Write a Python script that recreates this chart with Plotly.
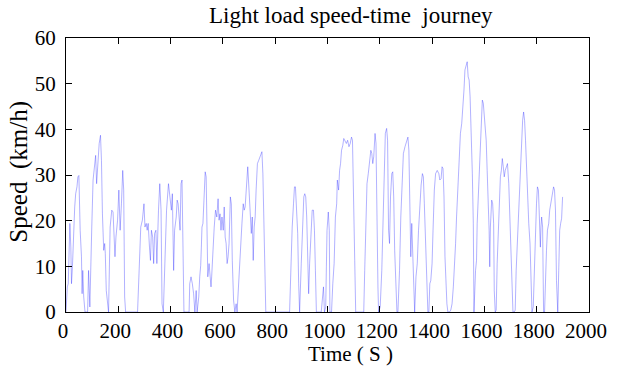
import plotly.graph_objects as go

# Light-load drive cycle: time (s) and vehicle speed (km/h)
time_s = [
    0, 5, 8.6, 14.8, 18.5, 21, 24.6, 29.6, 33.3, 37, 41.9, 45.6, 49.3, 54.2, 59.2, 61.6, 64.1, 67.8, 72.7,
    82.6, 86.3, 91.2, 96.1, 98.6, 103.5, 108.4, 113.4, 117.1, 122, 126.9, 131.9, 135.6, 139.3, 144.2,
    147.9, 150.3, 154, 162.7, 168.8, 175, 179.9, 183.6, 187.3, 191, 197.2, 202.1, 207, 212, 216.9, 220.6,
    224.3, 228, 273.6, 279.7, 285.9, 292, 298.2, 301.9, 306.8, 310.5, 314.2, 319.2, 322.9, 326.6, 331.5,
    335.2, 338.9, 343.8, 347.5, 353.7, 358.6, 363.5, 367.2, 372.2, 378.3, 384.5, 391.9, 396.8, 403,
    406.7, 411.6, 415.3, 421.5, 425.1, 428.8, 436.2, 439.9, 443.6, 447.3, 451, 458.4, 470.7, 473.2,
    478.1, 483.1, 488, 492.9, 497.8, 501.5, 507.7, 511.4, 515.1, 517.6, 520, 523.7, 527.4, 532.3, 536,
    538.5, 542.2, 547.1, 550.8, 554.5, 557, 561.9, 566.8, 571.8, 576.7, 581.6, 585.3, 589, 592.7, 596.4,
    601.3, 605, 608.7, 612.4, 616.1, 619.8, 623.5, 628.5, 632.2, 635.9, 640.8, 645.7, 650.6, 654.3,
    659.3, 664.2, 667.9, 672.8, 677.7, 681.4, 685.1, 690.1, 695, 699.9, 704.9, 708.6, 712.3, 716, 719.6,
    723.4, 727, 732, 736.9, 741.8, 745.5, 749.2, 752.9, 756.6, 760.3, 764, 855, 858.9, 865, 870, 873.7,
    877.4, 881.1, 886, 889.7, 893.4, 899.6, 904.5, 909.4, 913.1, 916.8, 920.5, 924.2, 927.9, 931.6,
    936.5, 941.5, 946.4, 950.1, 953.8, 957.5, 976, 980.9, 984.6, 988.3, 993.2, 995.7, 998.2, 1003.1,
    1006.8, 1009.2, 1015.4, 1020.3, 1025.3, 1030.2, 1035.1, 1037.6, 1042.5, 1046.2, 1049.9, 1053.6,
    1058.5, 1062.2, 1067.2, 1072.1, 1077, 1082, 1086.9, 1091.8, 1095.5, 1099.2, 1104.1, 1107.8, 1138.6,
    1142.3, 1146, 1151, 1155.9, 1160.8, 1165.7, 1169.4, 1173.1, 1176.8, 1181.8, 1185.5, 1189.2, 1192.9,
    1195.3, 1201.5, 1207.6, 1212.6, 1217.5, 1221.2, 1226.1, 1229.8, 1233.5, 1237.2, 1240.9, 1245.8,
    1249.5, 1253.2, 1256.9, 1261.9, 1265.6, 1269.3, 1275.4, 1280.3, 1285.3, 1290.2, 1296.4, 1302.5,
    1307.5, 1311.2, 1314.9, 1318.5, 1322.2, 1325.9, 1329.6, 1333.3, 1338.3, 1343.2, 1348.1, 1353, 1358,
    1362.9, 1366.6, 1370.3, 1374, 1378.9, 1383.9, 1387.6, 1391.3, 1395, 1399.9, 1403.6, 1408.5, 1413.4,
    1419.6, 1425.8, 1429.5, 1434.4, 1438.1, 1441.8, 1445.5, 1449.2, 1452.9, 1456.6, 1460.3, 1466.4,
    1471.4, 1476.3, 1481.2, 1486.1, 1489.8, 1493.5, 1498.5, 1503.4, 1508.3, 1513.3, 1518.2, 1521.9,
    1525.6, 1530.5, 1534.2, 1537.9, 1541.6, 1545.3, 1550.2, 1553.9, 1557.6, 1560.1, 1566.2, 1569.9,
    1572.4, 1576.1, 1579.8, 1583.5, 1588.4, 1592.1, 1595.8, 1599.5, 1603.2, 1606.9, 1610.6, 1614.3,
    1618, 1620.5, 1622.9, 1627.9, 1631.6, 1635.3, 1637.7, 1641.4, 1645.1, 1648.8, 1652.5, 1657.4,
    1661.1, 1664.8, 1668.5, 1672.2, 1675.9, 1679.6, 1683.3, 1688.2, 1693.2, 1698.1, 1701.8, 1705.5,
    1709.2, 1714, 1717.8, 1721.5, 1727.7, 1733.8, 1737.5, 1741.2, 1746.2, 1749.9, 1753.6, 1757.3,
    1762.2, 1765.9, 1769.6, 1774.5, 1778.2, 1781.9, 1786.8, 1790.5, 1795.5, 1799.2, 1802.8, 1806.6,
    1810.2, 1814, 1816.4, 1818.9, 1822.6, 1826.3, 1830, 1833.7, 1837.4, 1841.1, 1846, 1849.7, 1853.4,
    1857.1, 1860.8, 1864.5, 1868.2, 1871.8, 1875.6, 1878, 1880.5, 1884.2, 1887.9, 1891.6, 1895.3, 1899,
]

speed_kmh = [
    0, 5.5, 6.2, 19.4, 14.2, 6.2, 9.9, 19.7, 23.0, 25.9, 27.4, 29.6, 29.9, 17.9, 12.1, 4.0, 9.1, 3.3, 0,
    0, 9.1, 1.1, 17.9, 18.6, 28.9, 32.5, 34.3, 28.1, 32.9, 36.9, 38.7, 33.2, 21.5, 13.5,
    15.0, 12.8, 4.7, 0, 18.6, 22.3, 21.9, 16.4, 12.1, 16.4, 20.1, 26.7, 17.9, 23.7, 31.0, 26.7,
    3.3, 0, 0, 9.1, 18.6, 20.1, 23.7, 18.6, 19.4, 17.9, 19.4, 14.2, 11.3, 17.9, 16.4,
    10.6, 17.2, 17.9, 10.6, 22.3, 28.1, 22.3, 1.8, 0, 9.9, 22.3, 28.1, 25.2, 22.3,
    25.9, 9.1, 17.9, 20.8, 24.5, 23.7, 17.9, 28.1, 28.9, 17.2, 0, 0, 0, 6.2,
    7.7, 6.2, 4.0, 0, 4.7, 0, 3.3, 7.7, 10.2, 14.2, 18.6, 19.4, 26.7, 30.7, 29.6,
    17.9, 7.7, 10.6, 6.9, 5.5, 7.7, 15.0, 18.6, 22.3, 20.8, 24.8, 20.1, 21.5, 17.9, 20.8,
    17.9, 23.0, 16.4, 15.0, 10.6, 12.1, 15.0, 25.2, 23.7, 11.3, 2.6, 0, 1.8, 0,
    6.2, 11.3, 15.0, 19.4, 23.7, 22.3, 23.0, 27.4, 31.8, 26.7, 20.8, 17.2, 20.8, 11.3, 18.6,
    20.8, 26.7, 32.5, 33.2, 34.0, 34.7, 35.1, 30.3, 17.9, 6.2, 0, 0, 9.1, 18.6, 23.7, 27.4,
    27.4, 23.0, 17.2, 6.2, 0, 10.6, 17.9, 25.2, 25.9, 25.2, 20.8, 12.1, 4.0, 10.6,
    17.9, 22.3, 22.3, 17.9, 9.1, 0, 0, 3.3, 5.5, 0, 1.1, 9.9, 17.9, 21.9,
    17.9, 0, 0, 6.2, 10.6, 20.8, 23.7, 28.9, 26.7, 31.0, 32.5, 35.4,
    36.5, 38.0, 37.3, 36.9, 37.6, 36.2, 36.9, 38.3, 37.6, 21.5, 11.3, 0, 0,
    9.1, 20.1, 28.1, 30.3, 33.2, 35.4, 34.7, 32.5, 34.0, 39.1, 36.9, 16.4, 5.5,
    0, 1.1, 9.1, 23.0, 28.9, 39.1, 40.2, 37.6, 17.9, 15.0, 25.2, 30.3,
    30.7, 25.2, 13.5, 6.2, 0, 0, 9.1, 20.8, 27.4, 34.7, 36.2, 37.6,
    38.3, 35.4, 25.2, 12.1, 19.4, 11.3, 6.9, 0, 7.7, 10.6, 17.9, 23.7, 27.8,
    30.3, 29.6, 23.7, 17.9, 10.6, 0, 0, 6.2, 6.9, 10.6, 17.9, 26.7, 30.3,
    31.0, 30.3, 28.9, 29.2, 31.8, 31.4, 25.2, 12.1, 4.7, 1.8, 0, 0,
    0.4, 1.8, 5.5, 9.9, 15.0, 20.8, 28.1, 34.7, 39.1, 41.3, 44.9, 48.6,
    53.0, 54.1, 54.8, 51.5, 50.8, 47.1, 39.8, 30.3, 19.4, 0, 9.1, 11.3,
    19.4, 25.2, 31.0, 35.4, 42.0, 46.4, 45.7, 42.7, 40.5, 37.6, 31.0, 25.2,
    17.9, 9.9, 18.6, 24.5, 23.7, 19.4, 4.7, 0, 0.4, 10.6, 17.9, 23.7,
    29.6, 31.0, 33.6, 31.8, 29.6, 31.0, 31.8, 32.5, 28.1, 20.1, 14.2, 6.2,
    0, 0, 0.4, 9.1, 17.9, 26.7, 33.2, 37.6, 42.0, 43.8, 42.0, 37.6,
    29.6, 25.2, 19.4, 15.0, 8.4, 0, 1.1, 9.9, 17.9, 23.7, 27.4, 26.7,
    20.8, 14.2, 18.6, 20.8, 18.6, 0, 0, 9.1, 13.5, 17.9, 19.4, 22.3, 23.7,
    25.2, 25.9, 27.4, 26.7, 22.3, 6.9, 0, 0, 9.1, 17.9, 19.4, 20.5, 25.2,
]

x_ticks = list(range(0, 2001, 200))
y_ticks = list(range(0, 61, 10))

serif = "Liberation Serif"
W, H = 619, 368
L, R, T, B = 66, 12, 38, 56
PW, PH = W - L - R, H - T - B

fig = go.Figure(
    go.Scatter(
        x=time_s,
        y=speed_kmh,
        mode="lines",
        line=dict(color="rgba(40,40,255,0.6)", width=0.6),
        hoverinfo="skip",
    )
)

axis_style = dict(
    showgrid=False,
    zeroline=False,
    showline=True,
    linecolor="black",
    linewidth=1,
    mirror="ticks",
    ticks="inside",
    ticklen=6,
    tickwidth=1,
    tickcolor="black",
)

fig.update_layout(
    xaxis=dict(
        range=[0, 2000], tickmode="array", tickvals=x_ticks,
        ticklabelstandoff=0, ticklabelshift=-3, ticklabeloverflow="allow",
        tickfont=dict(family=serif, size=21, color="black"), **axis_style,
    ),
    yaxis=dict(
        range=[0, 60], tickmode="array", tickvals=y_ticks,
        ticklabelstandoff=5,
        tickfont=dict(family=serif, size=21, color="black"), **axis_style,
    ),
    width=W,
    height=H,
    margin=dict(l=L, r=R, t=T, b=B, pad=0),
    paper_bgcolor="white",
    plot_bgcolor="white",
    showlegend=False,
    font=dict(family=serif, color="black"),
    annotations=[
        dict(
            text="Light load speed-time \u00a0journey",
            xref="paper", yref="paper",
            x=(361 - L) / PW, y=1 + (T - 16) / PH,
            xanchor="center", yanchor="middle", showarrow=False,
            font=dict(family=serif, size=23, color="black"),
        ),
        dict(
            text="Time ( S )",
            xref="paper", yref="paper",
            x=(360 - L) / PW, y=-(354 - (H - B)) / PH,
            xanchor="center", yanchor="middle", showarrow=False,
            font=dict(family=serif, size=21, color="black"),
        ),
        dict(
            text="Speed \u00a0(km/h)",
            xref="paper", yref="paper",
            x=-(L - 17) / PW, y=((H - B) - 172) / PH,
            xanchor="center", yanchor="middle", showarrow=False, textangle=-90,
            font=dict(family=serif, size=25, color="black"),
        ),
    ],
)

fig.write_html("out.html")
